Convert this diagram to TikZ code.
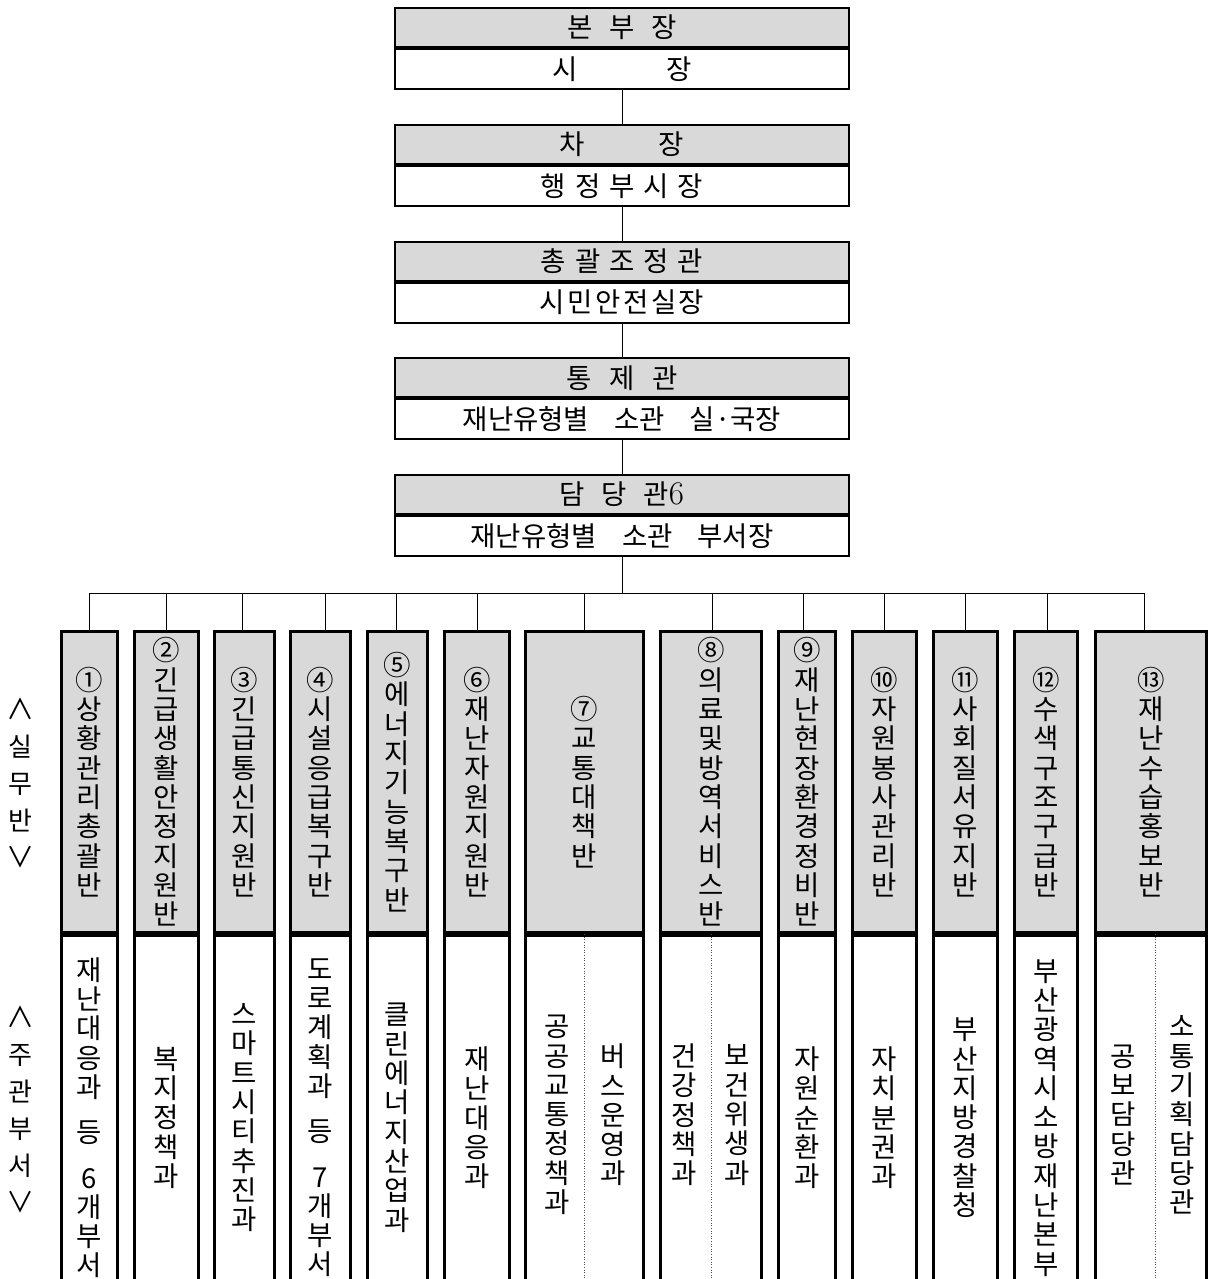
\documentclass[tikz,border=0pt]{standalone}
\usepackage{fontspec}
\newfontfamily\kr{Noto Sans CJK KR}
\usetikzlibrary{positioning}
\definecolor{headgray}{RGB}{217,217,217}
\newcommand\gap[1][16.5pt]{\hspace{#1}}
\tikzset{
  headbox/.style={draw, fill=headgray, line width=2pt, minimum width=454pt, minimum height=39pt, inner sep=0pt, font=\kr\fontsize{27.5}{30}\selectfont},
  postbox/.style={headbox, fill=white, minimum height=40pt},
  teambox/.style={draw, fill=headgray, line width=3.3pt, minimum height=301pt, inner sep=0pt, align=center, font=\kr\fontsize{27.5}{29.3}\selectfont},
  deptbox/.style={teambox, fill=white, minimum height=364pt},
  subtext/.style={align=center, font=\kr\fontsize{27.5}{29.3}\selectfont},
  sidetext/.style={align=center, font=\kr\fontsize{26}{37}\selectfont},
  divline/.style={dotted, line width=0.6pt, black!70}
}
\begin{document}
\begin{tikzpicture}[x=1pt, y=-1pt, line width=1pt]
  \useasboundingbox (0,0) rectangle (1209,1279);
  \clip (0,0) rectangle (1209,1279);

  % chain of command
  \foreach \i/\ttl/\who in {
      1/{본\gap 부\gap 장}/{시\gap[89pt]장},
      2/{차\gap[74pt]장}/{행\gap[9pt]정\gap[9pt]부\gap[9pt]시\gap[9pt]장},
      3/{총\gap[9pt]괄\gap[9pt]조\gap[9pt]정\gap[9pt]관}/{시\gap[2.5pt]민\gap[2.5pt]안\gap[2.5pt]전\gap[2.5pt]실\gap[2.5pt]장},
      4/{통\gap[17.5pt]제\gap[17.5pt]관}/{재난유형별\gap[25pt]소관\gap[25pt]실·국장},
      5/{담\gap 당\gap 관{\rmfamily\fontsize{33}{30}\selectfont 6}}/{재난유형별\gap[25pt]소관\gap[25pt]부서장}} {
    \node[headbox] (t\i) at (622, {27.5+116.75*(\i-1)}) {\ttl};
    \node[postbox, below=0pt of t\i] (n\i) {\who};
  }
  \foreach \i [count=\j from 2] in {1,...,4}
    \draw (n\i.south) -- (t\j.north);

  % teams and departments
  \foreach \i/\cx/\w/\grp/\dpt in {
      1/89.5/56/{①\\상\\황\\관\\리\\총\\괄\\반}/{재\\난\\대\\응\\과\\[16pt]등\\[16pt]6\\개\\부\\서},
      2/166.5/64/{②\\긴\\급\\생\\활\\안\\정\\지\\원\\반}/{복\\지\\정\\책\\과},
      3/244.5/60/{③\\긴\\급\\통\\신\\지\\원\\반}/{스\\마\\트\\시\\티\\추\\진\\과},
      4/320.5/60/{④\\시\\설\\응\\급\\복\\구\\반}/{도\\로\\계\\획\\과\\[16pt]등\\[16pt]7\\개\\부\\서},
      5/397.5/60/{⑤\\에\\너\\지\\기\\능\\복\\구\\반}/{클\\린\\에\\너\\지\\산\\업\\과},
      6/477/65/{⑥\\재\\난\\자\\원\\지\\원\\반}/{재\\난\\대\\응\\과},
      7/584.5/118/{⑦\\교\\통\\대\\책\\반}/{},
      8/711/101/{⑧\\의\\료\\및\\방\\역\\서\\비\\스\\반}/{},
      9/807/57/{⑨\\재\\난\\현\\장\\환\\경\\정\\비\\반}/{자\\원\\순\\환\\과},
      10/884.5/64/{⑩\\자\\원\\봉\\사\\관\\리\\반}/{자\\치\\분\\권\\과},
      11/965.5/64/{⑪\\사\\회\\질\\서\\유\\지\\반}/{부\\산\\지\\방\\경\\찰\\청},
      12/1046/63/{⑫\\수\\색\\구\\조\\구\\급\\반}/{부\\산\\광\\역\\시\\소\\방\\재\\난\\본\\부},
      13/1151/111/{⑬\\재\\난\\수\\습\\홍\\보\\반}/{}} {
    \node[teambox, minimum width=\w] (g\i) at (\cx, 782) {\grp};
    \node[deptbox, minimum width=\w, below=0pt of g\i] (w\i) {\dpt};
  }

  % split departments
  \draw[divline] (w7.north) -- (w7.south);
  \draw[divline] (w8.north) -- (w8.south);
  \draw[divline] ([xshift=4pt]w13.north) -- ([xshift=4pt]w13.south);
  \node[subtext] (w7a) at (557, 1115) {공\\공\\교\\통\\정\\책\\과};
  \node[subtext] (w7b) at (613, 1115) {버\\스\\운\\영\\과};
  \node[subtext] (w8a) at (684, 1115) {건\\강\\정\\책\\과};
  \node[subtext] (w8b) at (737, 1115) {보\\건\\위\\생\\과};
  \node[subtext] (w13a) at (1123, 1115) {공\\보\\담\\당\\관};
  \node[subtext] (w13b) at (1182, 1115) {소\\통\\기\\획\\담\\당\\관};

  % bus to the teams
  \coordinate (bus) at (622, 593);
  \draw (n5.south) -- (bus);
  \foreach \i/\dx in {1/0,2/0,3/-2.5,4/4.5,5/-1.5,6/0,7/0,8/1,9/-4,10/0,11/0,12/1,13/-7} {
    \path ([xshift=\dx pt]g\i.north) coordinate (s\i);
    \draw (s\i) -- (s\i |- bus);
  }
  \draw (s1 |- bus) -- (s13 |- bus);

  % row labels
  \node[sidetext] (silmu) at (20, 783) {{\fontsize{28}{37}\selectfont ∧}\\실\\무\\반\\{\fontsize{28}{37}\selectfont ∨}};
  \node[sidetext] (jugwan) at (20, 1109) {{\fontsize{28}{37}\selectfont ∧}\\주\\관\\부\\서\\{\fontsize{28}{37}\selectfont ∨}};
\end{tikzpicture}
\end{document}
